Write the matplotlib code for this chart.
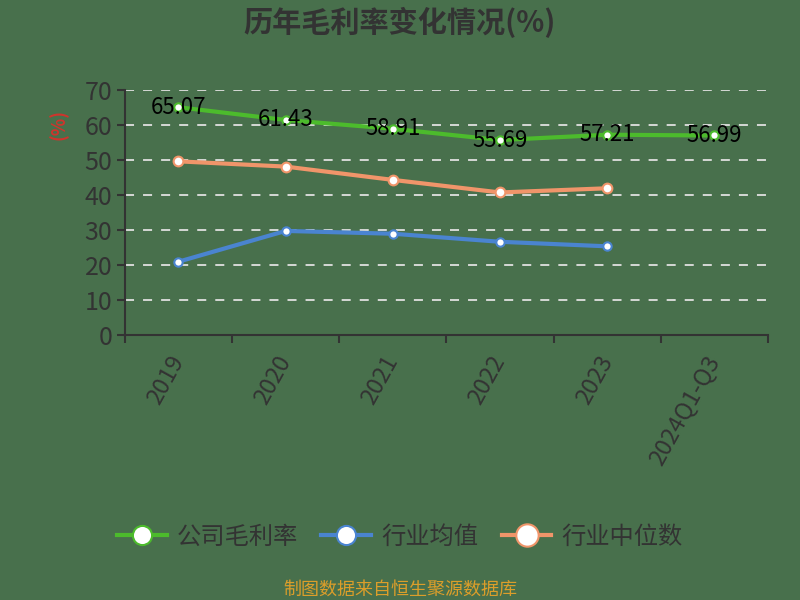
import numpy as np
import matplotlib.pyplot as plt
import matplotlib.transforms as mtransforms

plt.rcParams['font.family'] = ['Noto Sans CJK SC', 'DejaVu Sans']

# Data
years = ['2019', '2020', '2021', '2022', '2023', '2024Q1-Q3']
company = [65.07, 61.43, 58.91, 55.69, 57.21, 56.99]
industry_avg = [20.9, 29.7, 28.9, 26.6, 25.3]
industry_median = [49.6, 48.1, 44.3, 40.7, 41.9]

bg = '#48704c'
text_color = '#333333'

fig = plt.figure(figsize = (8, 6), dpi = 100, facecolor = bg)
ax = fig.add_axes([0.156, 0.442, 0.804, 0.408])
ax.set_facecolor(bg)

x = np.arange(len(years))
ax.plot(x, company, color = '#4cbb2c', lw = 3, marker = 'o', ms = 6,
        mfc = 'white', mec = '#4cbb2c', mew = 1.5, label = '公司毛利率', zorder = 4)
ax.plot(x[:len(industry_avg)], industry_avg, color = '#4a84d0', lw = 3, marker = 'o', ms = 6,
        mfc = 'white', mec = '#4a84d0', mew = 1.5, label = '行业均值', zorder = 3)
ax.plot(x[:len(industry_median)], industry_median, color = '#f0956a', lw = 3, marker = 'o', ms = 7,
        mfc = 'white', mec = '#f0956a', mew = 1.5, label = '行业中位数', zorder = 3)

for xi, v in zip(x, company):
    ax.text(xi, v, f'{v:.2f}', ha = 'center', va = 'center', fontsize = 16,
            color = 'black', zorder = 5)

ax.set_xlim(-0.5, len(years) - 0.5)
ax.set_ylim(0, 70)
ax.set_yticks(range(0, 71, 10))
ax.set_xticks(x)
ax.set_xticklabels(years, rotation = 61, ha = 'right', va = 'top', rotation_mode = 'anchor')
ax.set_xticks(np.arange(-0.5, len(years), 1), minor = True)
ax.tick_params(axis = 'x', which = 'major', length = 0, labelsize = 17, colors = text_color, pad = 12)
ax.tick_params(axis = 'x', which = 'minor', length = 6, width = 1.5, color = text_color, direction = 'out')
ax.tick_params(axis = 'y', length = 6, width = 1.5, color = text_color, labelsize = 18,
               labelcolor = text_color, pad = 3)
shift = mtransforms.ScaledTranslation(-10 / 100, 0, fig.dpi_scale_trans)
for lab in ax.get_xticklabels():
    lab.set_fontweight('medium')
    lab.set_transform(lab.get_transform() + shift)
for lab in ax.get_yticklabels():
    lab.set_fontweight('medium')

for v in range(10, 71, 10):
    ax.axhline(v, color = '#e0e0e0', lw = 1.3, ls = (0, (5, 5)), zorder = 1)

for s in ['top', 'right']:
    ax.spines[s].set_visible(False)
ax.spines['left'].set_color(text_color)
ax.spines['bottom'].set_color(text_color)
ax.spines['left'].set_linewidth(1.5)
ax.spines['bottom'].set_linewidth(1.5)

ax.set_ylabel('(%)', color = '#d0342c', fontsize = 13, fontweight = 'bold')
ax.yaxis.set_label_coords(-0.088, 0.86)

fig.text(0.5, 0.962, '历年毛利率变化情况(%)', ha = 'center', va = 'center',
         fontsize = 21, fontweight = 'bold', color = text_color)

fig.legend(loc = 'center', bbox_to_anchor = (0.5, 0.105), ncol = 3, frameon = False,
           prop = {'size': 17.5, 'weight': 'medium'}, labelcolor = text_color,
           handlelength = 2.05, columnspacing = 0.95, handletextpad = 0.42, markerscale = 2.3)

fig.text(0.5, 0.017, '制图数据来自恒生聚源数据库', ha = 'center', va = 'center',
         fontsize = 13, fontweight = 'medium', color = '#dc9e2a')

fig.savefig('out.png', dpi = 100, facecolor = bg)
